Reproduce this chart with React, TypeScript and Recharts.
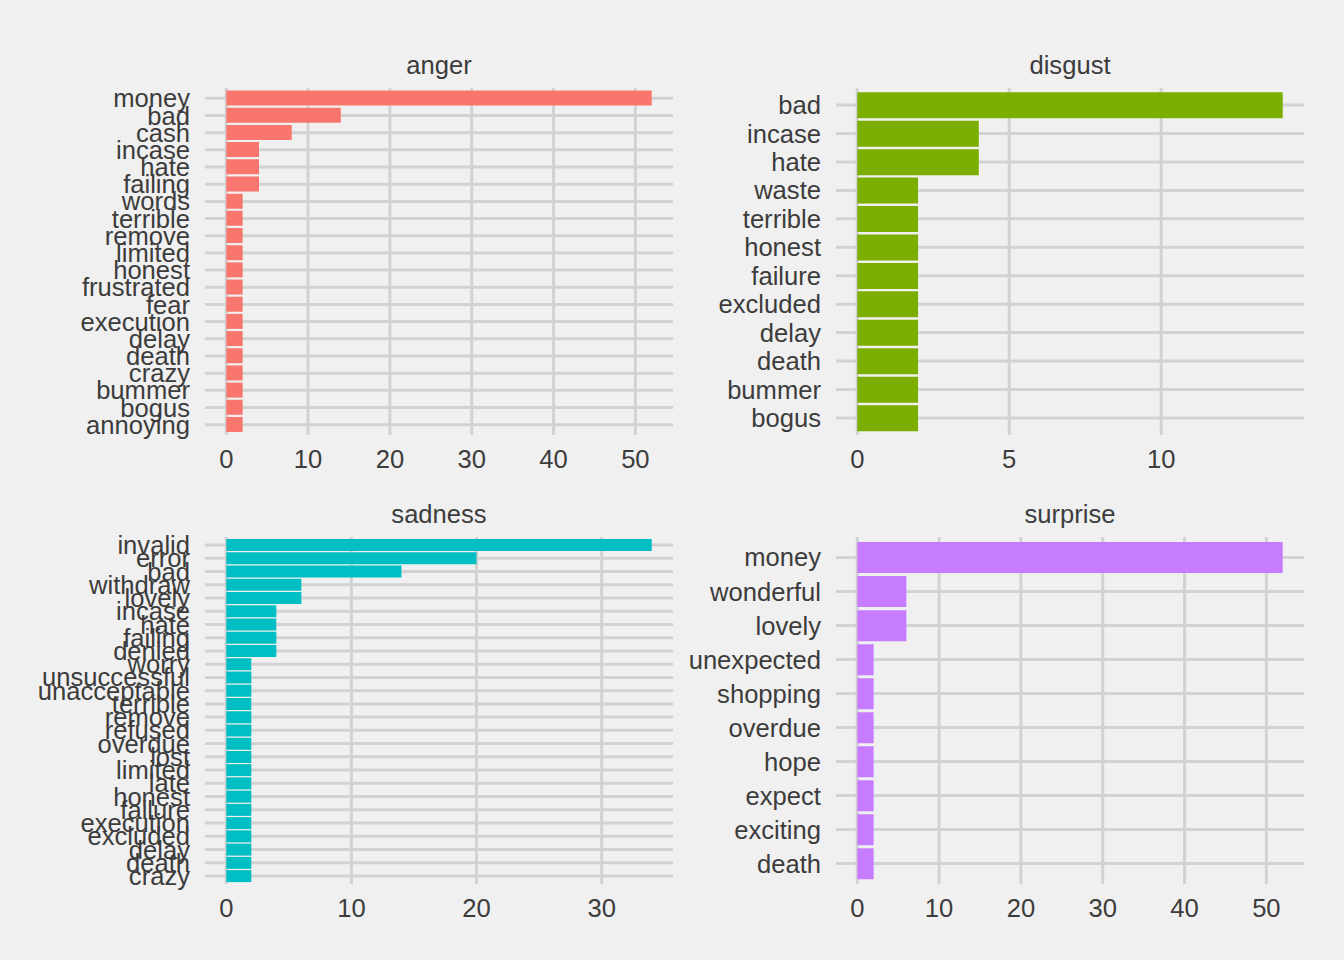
import React from 'react';
import { BarChart, Bar, XAxis, YAxis, CartesianGrid } from 'recharts';

// word counts per emotion, top words first
const angerWords = ['money', 'bad', 'cash', 'incase', 'hate', 'failing', 'words', 'terrible', 'remove', 'limited',
  'honest', 'frustrated', 'fear', 'execution', 'delay', 'death', 'crazy', 'bummer', 'bogus', 'annoying'];
const angerCounts = [52, 14, 8, 4, 4, 4, 2, 2, 2, 2, 2, 2, 2, 2, 2, 2, 2, 2, 2, 2];

const disgustWords = ['bad', 'incase', 'hate', 'waste', 'terrible', 'honest', 'failure', 'excluded', 'delay',
  'death', 'bummer', 'bogus'];
const disgustCounts = [14, 4, 4, 2, 2, 2, 2, 2, 2, 2, 2, 2];

const sadnessWords = ['invalid', 'error', 'bad', 'withdraw', 'lovely', 'incase', 'hate', 'failing', 'denied', 'worry',
  'unsuccessful', 'unacceptable', 'terrible', 'remove', 'refused', 'overdue', 'lost', 'limited', 'late', 'honest',
  'failure', 'execution', 'excluded', 'delay', 'death', 'crazy'];
const sadnessCounts = [34, 20, 14, 6, 6, 4, 4, 4, 4, 2, 2, 2, 2, 2, 2, 2, 2, 2, 2, 2, 2, 2, 2, 2, 2, 2];

const surpriseWords = ['money', 'wonderful', 'lovely', 'unexpected', 'shopping', 'overdue', 'hope', 'expect',
  'exciting', 'death'];
const surpriseCounts = [52, 6, 6, 2, 2, 2, 2, 2, 2, 2];

const ticks50 = [0, 10, 20, 30, 40, 50];
const ticks10 = [0, 5, 10];
const ticks30 = [0, 10, 20, 30];

const TEXT = '#3C3C3C';
const GRID = '#D2D2D2';
const FONT = '"Liberation Sans", Arial, sans-serif';
const FS = 25.6;

const toRows = (words: string[], counts: number[]) =>
  words.map((w, i) => ({ word: w, n: counts[i] }));

interface PanelProps {
  title: string;
  words: string[];
  counts: number[];
  color: string;
  ticks: number[];
  plotLeft: number;
  plotTop: number;
  axisWidth: number;
}

const PLOT_W = 468;
const PLOT_H = 347;

const Panel: React.FC<PanelProps> = ({ title, words, counts, color, ticks, plotLeft, plotTop, axisWidth }) => {
  const data = toRows(words, counts);
  const max = Math.max(...counts);
  const pad = max * 0.05;
  const catPad = (0.1 * PLOT_H) / (words.length + 0.2);
  const marginTop = 8;
  const xAxisH = 40;
  const right = 17;

  return (
    <>
      <div
        style={{
          position: 'absolute',
          left: plotLeft,
          top: plotTop - 37,
          width: PLOT_W,
          textAlign: 'center',
          fontFamily: FONT,
          fontSize: FS,
          color: TEXT,
          lineHeight: 'normal'
        }}
      >
        {title}
      </div>
      <div style={{ position: 'absolute', left: plotLeft - axisWidth, top: plotTop - marginTop }}>
        <BarChart
          width={axisWidth + PLOT_W + right}
          height={marginTop + PLOT_H + xAxisH}
          data={data}
          layout="vertical"
          margin={{ top: marginTop, right, bottom: 0, left: 0 }}
          barCategoryGap="5%"
        >
          <CartesianGrid stroke={GRID} strokeWidth={3} syncWithTicks />
          <XAxis
            type="number"
            dataKey="n"
            domain={[-pad, max + pad]}
            allowDataOverflow
            ticks={ticks}
            interval={0}
            axisLine={false}
            tickLine={false}
            tickSize={0}
            tickMargin={15}
            height={xAxisH}
            tick={{ fill: TEXT, fontSize: FS, fontFamily: FONT }}
          />
          <YAxis
            type="category"
            dataKey="word"
            width={axisWidth}
            interval={0}
            axisLine={false}
            tickLine={false}
            tickSize={0}
            tickMargin={15}
            padding={{ top: catPad, bottom: catPad }}
            tick={{ fill: TEXT, fontSize: FS, fontFamily: FONT }}
          />
          <Bar dataKey="n" fill={color} isAnimationActive={false} />
        </BarChart>
      </div>
    </>
  );
};

export default function App() {
  return (
    <div style={{ position: 'relative', width: 1344, height: 960, background: '#F0F0F0', overflow: 'hidden' }}>
      <style>{'body{margin:0;background:#F0F0F0}'}</style>
      <Panel title="anger" words={angerWords} counts={angerCounts} color="#F8766D" ticks={ticks50}
        plotLeft={205} plotTop={88} axisWidth={205} />
      <Panel title="disgust" words={disgustWords} counts={disgustCounts} color="#7CAE00" ticks={ticks10}
        plotLeft={836} plotTop={88} axisWidth={156} />
      <Panel title="sadness" words={sadnessWords} counts={sadnessCounts} color="#00BFC4" ticks={ticks30}
        plotLeft={205} plotTop={537} axisWidth={205} />
      <Panel title="surprise" words={surpriseWords} counts={surpriseCounts} color="#C77CFF" ticks={ticks50}
        plotLeft={836} plotTop={537} axisWidth={156} />
    </div>
  );
}
